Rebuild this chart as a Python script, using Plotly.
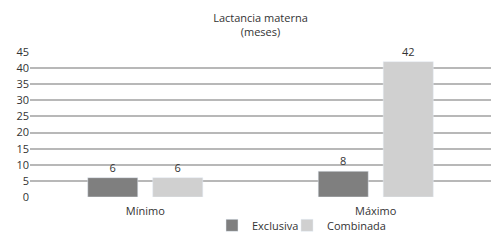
import plotly.graph_objects as go

categories = ["Mínimo", "Máximo"]
exclusiva = [6, 8]
combinada = [6, 42]
yticks = [0, 5, 10, 15, 20, 25, 30, 35, 40, 45]

font = "Open Sans"
fig = go.Figure()
fig.add_trace(go.Bar(name="Exclusiva", x=categories, y=exclusiva, marker_color="#7f7f7f",
                     text=exclusiva, textposition="outside", textfont=dict(size=11, color="#333"),
                     legend="legend"))
fig.add_trace(go.Bar(name="Combinada", x=categories, y=combinada, marker_color="#d0d0d0",
                     text=combinada, textposition="outside", textfont=dict(size=11, color="#333"),
                     legend="legend2"))

leg_common = dict(orientation="h", xanchor="left", yref="container", xref="container",
                  y=0.065, yanchor="middle", font=dict(size=11), itemwidth=30,
                  bgcolor="rgba(0,0,0,0)")

fig.update_layout(
    width=499, height=241,
    margin=dict(l=30, r=8, t=52, b=44, autoexpand=False),
    paper_bgcolor="white", plot_bgcolor="white",
    font=dict(family=font, size=11, color="#333"),
    barmode="group", bargap=0.436, bargroupgap=0.23,
    title=dict(text="Lactancia materna<br>(meses)", x=0.5, xanchor="center",
               xref="paper", yref="container", y=0.909, yanchor="middle",
               font=dict(size=11, color="#333")),
    showlegend=True,
    legend=dict(x=212 / 499, **leg_common),
    legend2=dict(x=287 / 499, **leg_common),
    yaxis=dict(range=[0, 45], tickvals=yticks, showgrid=True, gridcolor="#b8b8b8", gridwidth=2,
               zeroline=False, ticks="", tickfont=dict(size=11), automargin=False),
    xaxis=dict(showgrid=False, ticks="", tickfont=dict(size=11), showline=False,
               ticklabelstandoff=6, automargin=False),
)
fig.update_traces(cliponaxis=False)
fig.write_html("out.html", config={"displayModeBar": False},
               post_script="document.body.style.margin='0';")
